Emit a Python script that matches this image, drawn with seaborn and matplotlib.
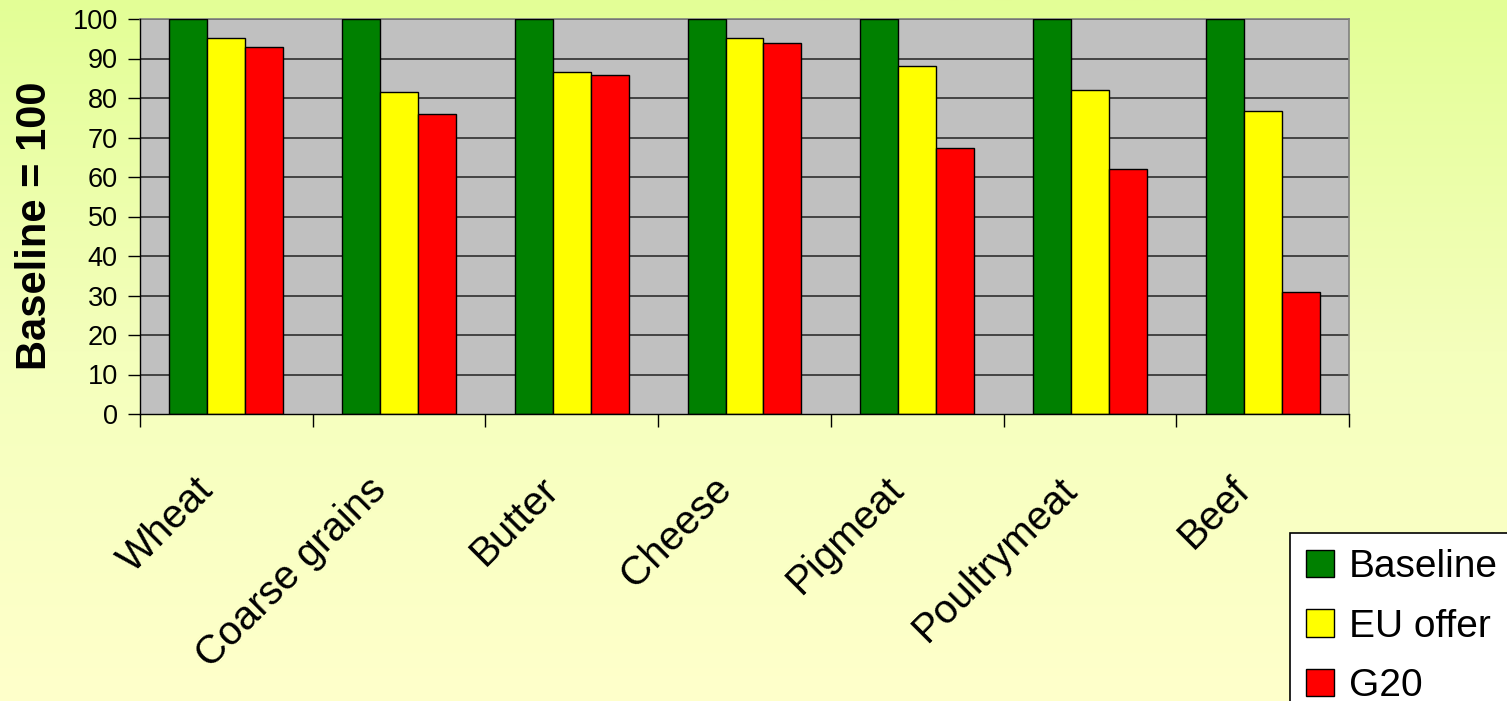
import numpy as np
import pandas as pd
import matplotlib
matplotlib.use("Agg")
import matplotlib.pyplot as plt
from matplotlib.patches import Patch
from matplotlib.colors import LinearSegmentedColormap
import seaborn as sns

categories = ["Wheat", "Coarse grains", "Butter", "Cheese", "Pigmeat", "Poultrymeat", "Beef"]
series_names = ["Baseline", "EU offer", "G20"]
baseline = [100, 100, 100, 100, 100, 100, 100]
eu_offer = [95.2, 81.5, 86.6, 95.2, 88.1, 82.0, 76.7]
g20 = [92.9, 75.9, 85.8, 93.9, 67.3, 62.0, 30.9]
yticks = [0, 10, 20, 30, 40, 50, 60, 70, 80, 90, 100]
y_label = "Baseline = 100"
colors = ["#008000", "#ffff00", "#ff0000"]

df = pd.DataFrame({
    "category": categories * 3,
    "series": [s for s in series_names for _ in categories],
    "value": baseline + eu_offer + g20,
})

sns.set_theme(style="white")
plt.rcParams["font.family"] = ["Liberation Sans", "DejaVu Sans"]
plt.rcParams["text.color"] = "black"
plt.rcParams["axes.labelcolor"] = "black"
plt.rcParams["xtick.color"] = "black"
plt.rcParams["ytick.color"] = "black"

W, H = 1507, 701
fig = plt.figure(figsize=(W / 100, H / 100), dpi=100)

# gradient background
bg = fig.add_axes([0, 0, 1, 1], zorder=-10)
cmap = LinearSegmentedColormap.from_list("bg", ["#e3fe96", "#f4ffbc", "#ffffcb"])
grad = np.linspace(0, 1, 256).reshape(-1, 1)
bg.imshow(grad, aspect="auto", cmap=cmap, extent=[0, 1, 0, 1], origin="upper")
bg.set_axis_off()

left, right = 140 / W, 1349 / W
top, bottom = 1 - 19 / H, 1 - 414 / H
ax = fig.add_axes([left, bottom, right - left, top - bottom])
ax.set_facecolor("#c0c0c0")

sns.barplot(data=df, x="category", y="value", hue="series", order=categories,
            hue_order=series_names, palette=colors, width=0.66, gap=0,
            edgecolor="black", linewidth=1.0, saturation=1, legend=False, ax=ax, zorder=3)

ax.set_ylim(0, 100)
ax.set_xlim(-0.5, len(categories) - 0.5)
ax.set_yticks(yticks)
ax.set_yticklabels([str(v) for v in yticks], fontsize=19.5)
for v in yticks[1:]:
    ax.axhline(v, color="#222222", linewidth=1.1, zorder=1)

# x ticks at boundaries, labels near centres (slightly offset like the original)
ax.set_xticks(np.arange(-0.5, len(categories), 1.0))
ax.set_xticklabels([])
ax.set_xticks(np.arange(len(categories)) - 0.11, minor=True)
ax.set_xticklabels(categories, minor=True, fontsize=29, rotation=45,
                   ha="right", va="center", rotation_mode="anchor")
ax.tick_params(axis="x", which="major", length=9, width=1, color="black", direction="out", bottom=True)
ax.tick_params(axis="x", which="minor", length=0, pad=50)
ax.tick_params(axis="y", length=9, width=1, color="black", direction="out", left=True, pad=7)
ax.set_xlabel("")
ax.set_ylabel(y_label, fontsize=30, fontweight="bold")
ax.yaxis.set_label_coords((55 - 140) / 1209, (414 - 226) / 395)

for s in ["top", "right"]:
    ax.spines[s].set_color("#808080")
    ax.spines[s].set_linewidth(1.2)
for s in ["left", "bottom"]:
    ax.spines[s].set_color("black")
    ax.spines[s].set_linewidth(1.0)
    ax.spines[s].set_zorder(5)

handles = [Patch(facecolor=c, edgecolor="black", linewidth=1) for c in colors]
leg = ax.legend(handles, series_names, loc="upper left",
                bbox_to_anchor=(1290 / W, 1 - 533 / H), bbox_transform=fig.transFigure,
                borderaxespad=0, fontsize=28, frameon=True, fancybox=False, shadow=False,
                handlelength=0.7, handleheight=0.7, handletextpad=0.4,
                labelspacing=0.6, borderpad=0.42)
leg.get_frame().set_facecolor("white")
leg.get_frame().set_edgecolor("black")
leg.get_frame().set_linewidth(1.2)
leg.get_frame().set_alpha(1)

fig.savefig("out.png", dpi=100)
